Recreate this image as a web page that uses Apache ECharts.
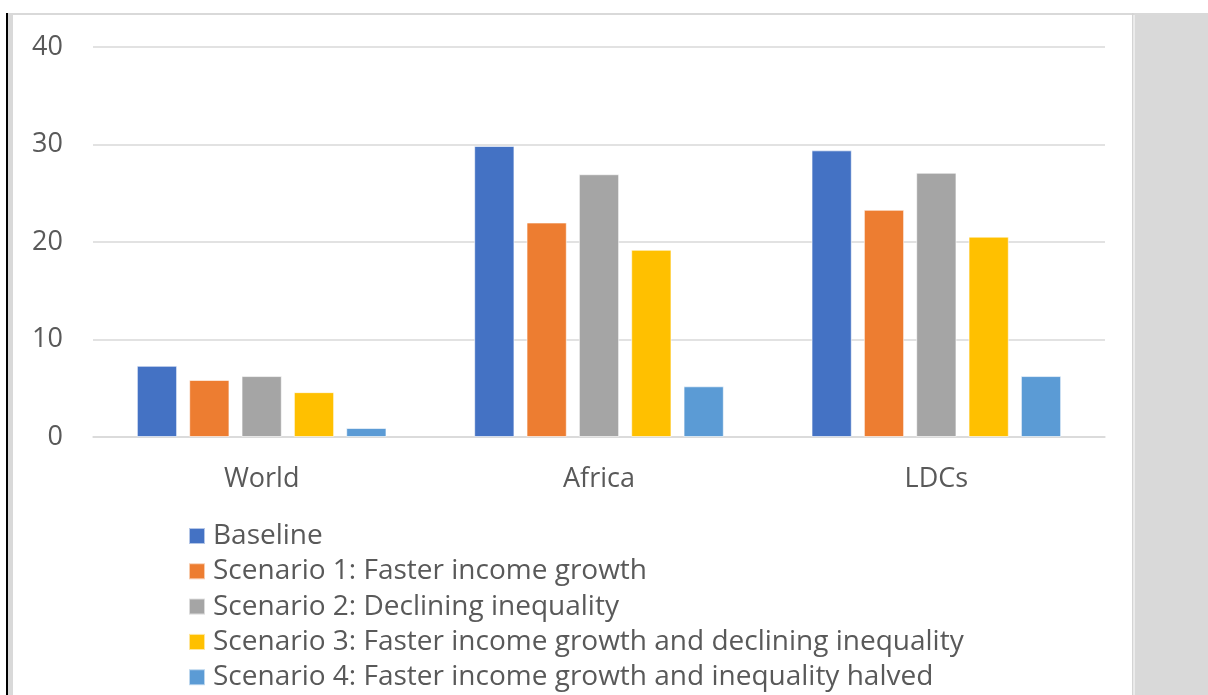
<!DOCTYPE html>
<html>
<head>
<meta charset="utf-8">
<script src="https://cdn.jsdelivr.net/npm/echarts@6/dist/echarts.min.js"></script>
<style>
  html, body { margin: 0; padding: 0; background: #ffffff; }
  #chart { width: 1208px; height: 695px; }
</style>
</head>
<body>
<div id="chart"></div>
<script>
// Regions compared across scenarios
const categories = ['World', 'Africa', 'LDCs'];

// Values per scenario, in region order
const baseline  = [7.3, 29.85, 29.4];
const scenario1 = [5.85, 22.0, 23.3];
const scenario2 = [6.25, 26.95, 27.1];
const scenario3 = [4.6, 19.2, 20.55];
const scenario4 = [0.92, 5.2, 6.25];

const seriesNames = [
  'Baseline',
  'Scenario 1: Faster income growth',
  'Scenario 2: Declining inequality',
  'Scenario 3: Faster income growth and declining inequality',
  'Scenario 4: Faster income growth and inequality halved'
];
const seriesData = [baseline, scenario1, scenario2, scenario3, scenario4];
const colors = ['#4472C4', '#ED7D31', '#A5A5A5', '#FFC000', '#5B9BD5'];

const yTicks = { min: 0, max: 40, interval: 10 };

const FONT = '"Open Sans"';
const TEXT = '#595959';

const chart = echarts.init(document.getElementById('chart'));

chart.setOption({
  animation: false,
  backgroundColor: '#ffffff',
  color: colors,
  textStyle: { fontFamily: FONT },
  graphic: [
    // frame: dark left rule, light inner strip, top rule, right panel
    { type: 'rect', shape: { x: 6, y: 13, width: 2, height: 682 }, style: { fill: '#000000' }, silent: true },
    { type: 'rect', shape: { x: 8, y: 13, width: 5, height: 682 }, style: { fill: '#d9d9d9' }, silent: true },
    { type: 'rect', shape: { x: 13, y: 13, width: 1122, height: 2 }, style: { fill: '#d9d9d9' }, silent: true },
    { type: 'rect', shape: { x: 1132, y: 13, width: 1.5, height: 682 }, style: { fill: '#d4d4d4' }, silent: true },
    { type: 'rect', shape: { x: 1134.5, y: 13, width: 74, height: 682 }, style: { fill: '#d9d9d9' }, silent: true }
  ],
  grid: { left: 93, right: 103, top: 47, bottom: 258, containLabel: false },
  legend: {
    orient: 'vertical',
    left: 188,
    top: 522,
    padding: 0,
    itemWidth: 16,
    itemHeight: 16,
    itemGap: 7.3,
    icon: 'rect',
    textStyle: { color: TEXT, fontSize: 28, fontFamily: FONT, lineHeight: 28, padding: [0, 0, 0, 3] },
    data: seriesNames
  },
  xAxis: {
    type: 'category',
    data: categories,
    axisLine: { show: true, lineStyle: { color: '#d9d9d9', width: 1.5 } },
    axisTick: { show: false },
    axisLabel: { color: TEXT, fontSize: 27, margin: 29, fontFamily: FONT }
  },
  yAxis: {
    type: 'value',
    min: yTicks.min,
    max: yTicks.max,
    interval: yTicks.interval,
    axisLine: { show: false },
    axisTick: { show: false },
    axisLabel: { color: TEXT, fontSize: 27, margin: 30, fontFamily: FONT },
    splitLine: { lineStyle: { color: '#d9d9d9', width: 1.5 } }
  },
  series: seriesNames.map((name, i) => ({
    name: name,
    type: 'bar',
    data: seriesData[i],
    barGap: '30%',
    barCategoryGap: '26%',
    itemStyle: { color: colors[i], borderColor: 'rgba(255,255,255,0.6)', borderWidth: 1 }
  }))
});
</script>
</body>
</html>
